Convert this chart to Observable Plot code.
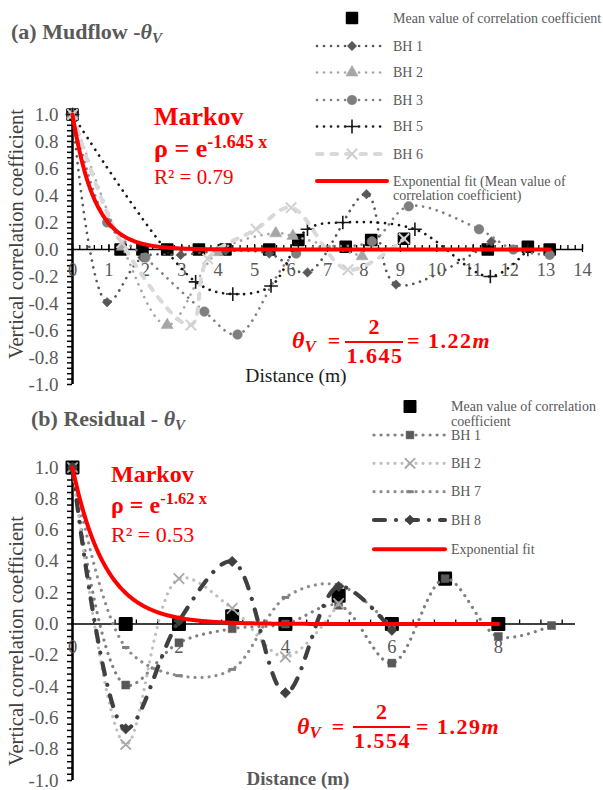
<!DOCTYPE html>
<html><head><meta charset="utf-8">
<script src="https://cdn.jsdelivr.net/npm/d3@7"></script>
<script src="https://cdn.jsdelivr.net/npm/@observablehq/plot@0.6"></script>
<style>
html,body{margin:0;padding:0;background:#fff;overflow:hidden;}
#wrap{position:relative;width:603px;height:790px;font-family:"Liberation Serif","Times New Roman",serif;}
#wrap svg{position:absolute;left:0;}
#wrap svg text{font-family:"Liberation Serif","Times New Roman",serif !important;}
</style></head><body><div id="wrap"></div>
<script>
// ---------------- Panel (a) Mudflow ----------------
const distA_mean = [0, 1.32, 1.92, 2.6, 3.47, 4.2, 5.4, 6.2, 7.5, 8.2, 9.1, 11.4, 12.5, 13.1];
const rhoA_mean  = [1.0, 0, 0, 0, 0, 0, 0, 0.07, 0.02, 0.07, 0.08, 0, 0.02, 0];
const distA_bh1 = [0, 0.95, 1.92, 2.97, 4.2, 5.4, 6.45, 8.07, 8.88, 11.5];
const rhoA_bh1  = [1, -0.39, -0.06, -0.04, -0.01, -0.03, -0.17, 0.41, -0.26, 0.06];
const distA_bh2 = [0, 1.37, 2.6, 3.98, 5.58, 6.05, 7.95];
const rhoA_bh2  = [1, 0.02, -0.56, -0.02, 0.12, 0.10, -0.05];
const distA_bh3 = [0, 0.95, 2.0, 3.62, 4.53, 6.14, 8.22, 9.23, 11.16, 12.1, 13.1];
const rhoA_bh3  = [1, 0.2, -0.06, -0.46, -0.63, -0.03, 0.06, 0.32, 0.15, 0.0, -0.04];
const distA_bh5 = [0, 3.38, 4.4, 5.45, 6.45, 7.42, 9.4, 11.47, 12.5];
const rhoA_bh5  = [1, -0.24, -0.33, -0.27, 0.15, 0.2, 0.15, -0.2, 0.0];
const distA_bh6 = [0, 1.35, 3.25, 3.71, 5.04, 6.0, 7.56, 9.1];
const rhoA_bh6  = [1, 0.05, -0.56, -0.07, 0.15, 0.31, -0.15, 0.08];
const fitA_k = 1.645, fitA_xmax = 13.1;
const xTicksA = [0,1,2,3,4,5,6,7,8,9,10,11,12,13,14];

// ---------------- Panel (b) Residual ----------------
const distB_mean = [0, 1, 2, 3, 4, 5, 6, 7, 8];
const rhoB_mean  = [1, 0, 0, 0.05, 0, 0.18, 0, 0.29, 0];
const distB_bh1 = [0, 1, 2, 3, 4, 5, 6, 7, 8, 9];
const rhoB_bh1  = [1, -0.39, -0.12, -0.03, 0.0, 0.12, -0.25, 0.29, -0.08, -0.01];
const distB_bh2 = [0, 1, 2, 3, 4, 5];
const rhoB_bh2  = [1, -0.77, 0.29, 0.10, -0.21, 0.13];
const distB_bh7 = [0, 1, 2, 3, 4, 5, 6];
const rhoB_bh7  = [1, -0.15, -0.33, -0.29, 0.17, 0.25, -0.02];
const distB_bh8 = [0, 1, 2, 3, 4, 5, 6];
const rhoB_bh8  = [1, -0.67, 0.02, 0.40, -0.44, 0.24, -0.04];
const fitB_k = 1.62, fitB_xmax = 8;
const xTicksB = [0, 2, 4, 6, 8];

const yTicks = [-1.0, -0.8, -0.6, -0.4, -0.2, 0.0, 0.2, 0.4, 0.6, 0.8, 1.0];

// ---------------- helpers ----------------
const FONT = '"Liberation Serif","Times New Roman",serif';
const rows = (xs, ys) => xs.map((x, i) => ({x, y: ys[i]}));
const fitRows = (k, xmax) => d3.range(0, xmax + 1e-9, 0.02).concat([xmax]).map(x => ({x, y: Math.exp(-k * x)}));
const fmtY = d => d.toFixed(1);
const dashSymbol = {draw(ctx, size) { const r = Math.sqrt(size) / 2; ctx.moveTo(-r, 0); ctx.lineTo(r, 0); }};
const DOT = "0.01,7";

function axesMarks(xMax, xMinorStep, xMajor, xLabelDy, yMinorN) {
  const yMinor = d3.range(-yMinorN, yMinorN + 1).map(i => i / yMinorN);
  const xMinor = d3.range(0, Math.floor(xMax / xMinorStep + 1e-6) + 1).map(i => i * xMinorStep);
  return [
    Plot.ruleY([0], {stroke: "#000", strokeWidth: 1.5}),
    Plot.ruleX(xMinor, {x: d => d, y1: () => 0, y2: () => 0, insetTop: -4, stroke: "#000", strokeWidth: 1.3}),
    Plot.ruleX(xMajor, {x: d => d, y1: () => 0, y2: () => 0, insetTop: -5, insetBottom: -3, stroke: "#000", strokeWidth: 1.3}),
    Plot.ruleY(yMinor, {y: d => d, x1: () => 0, x2: () => 0, insetLeft: -5, stroke: "#000", strokeWidth: 1.5}),
    Plot.ruleX([0], {stroke: "#000", strokeWidth: 2.5}),
    Plot.text(yTicks, {x: () => 0, y: d => d, dx: -14, textAnchor: "end", text: fmtY, fill: "#595959", fontSize: 19, fontFamily: FONT}),
    Plot.text(xMajor, {x: d => d, y: () => 0, dy: xLabelDy, text: d => String(d), fill: "#595959", fontSize: 18.5, fontFamily: FONT})
  ];
}

function series(data, o) {
  const m = [];
  m.push(Plot.line(data, {x: "x", y: "y", curve: "catmull-rom", stroke: o.line, strokeWidth: o.w, strokeDasharray: o.dash, strokeLinecap: "round"}));
  const dopt = {x: "x", y: "y", symbol: o.symbol, r: o.r};
  if (o.rotate) dopt.rotate = o.rotate;
  if (o.strokeSym) { dopt.fill = "none"; dopt.stroke = o.color; dopt.strokeWidth = o.sw || 1.5; }
  else { dopt.fill = o.color; dopt.stroke = o.color; dopt.strokeWidth = 0.5; }
  m.push(Plot.dot(data, dopt));
  return m;
}

const wrap = document.getElementById("wrap");

// ---------------- Plot (a) ----------------
const seriesA = [
  {d: rows(distA_bh1, rhoA_bh1), line: "#595959", color: "#595959", w: 2.7, dash: DOT, symbol: "square", rotate: 45, r: 3.8},
  {d: rows(distA_bh2, rhoA_bh2), line: "#a6a6a6", color: "#a6a6a6", w: 2.7, dash: DOT, symbol: "triangle", r: 4.5},
  {d: rows(distA_bh3, rhoA_bh3), line: "#7f7f7f", color: "#7f7f7f", w: 2.7, dash: DOT, symbol: "circle", r: 4.8},
  {d: rows(distA_bh5, rhoA_bh5), line: "#1a1a1a", color: "#1a1a1a", w: 2.7, dash: DOT, symbol: "plus", r: 4.5, strokeSym: true, sw: 1.6},
  {d: rows(distA_bh6, rhoA_bh6), line: "#d9d9d9", color: "#d0d0d0", w: 4, dash: "5.5,9", symbol: "times", r: 4.8, strokeSym: true, sw: 2}
];
const plotA = Plot.plot({
  width: 603, height: 395,
  marginLeft: 72, marginRight: 21, marginTop: 114, marginBottom: 11,
  x: {domain: [0, 14], axis: null},
  y: {domain: [-1, 1], axis: null},
  style: {background: "transparent", overflow: "visible"},
  marks: [
    ...axesMarks(14, 0.2, xTicksA, 21, 25),
    Plot.dot(rows(distA_mean, rhoA_mean), {x: "x", y: "y", symbol: "square", r: 6, fill: "#000", stroke: "#000", strokeWidth: 2, strokeLinejoin: "round"}),
    ...seriesA.flatMap(s => series(s.d, s)),
    Plot.line(fitRows(fitA_k, fitA_xmax), {x: "x", y: "y", stroke: "#ff0000", strokeWidth: 4, curve: "linear"})
  ]
});
plotA.style.top = "0px";
wrap.appendChild(plotA);

// ---------------- Plot (b) ----------------
const seriesB = [
  {d: rows(distB_bh1, rhoB_bh1), line: "#7f7f7f", color: "#595959", w: 3.2, dash: DOT, symbol: "square", r: 4.5},
  {d: rows(distB_bh2, rhoB_bh2), line: "#bfbfbf", color: "#a6a6a6", w: 3.2, dash: DOT, symbol: "times", r: 4.8, strokeSym: true, sw: 1.8},
  {d: rows(distB_bh7, rhoB_bh7), line: "#8c8c8c", color: "#808080", w: 3.2, dash: DOT, symbol: dashSymbol, r: 4.2, strokeSym: true, sw: 3},
  {d: rows(distB_bh8, rhoB_bh8), line: "#404040", color: "#404040", w: 4.2, dash: "11,11,0.01,11", symbol: "square", rotate: 45, r: 4.2}
];
const plotB = Plot.plot({
  width: 603, height: 395,
  marginLeft: 72, marginRight: 28, marginTop: 72, marginBottom: 10,
  x: {domain: [0, 9.45], axis: null},
  y: {domain: [-1, 1], axis: null},
  style: {background: "transparent", overflow: "visible"},
  marks: [
    ...axesMarks(9.45, 0.4, xTicksB, 23, 25),
    Plot.dot(rows(distB_mean, rhoB_mean), {x: "x", y: "y", symbol: "square", r: 6.5, fill: "#000", stroke: "#000", strokeWidth: 2.5, strokeLinejoin: "round"}),
    ...seriesB.flatMap(s => series(s.d, s)),
    Plot.line(fitRows(fitB_k, fitB_xmax), {x: "x", y: "y", stroke: "#ff0000", strokeWidth: 4, curve: "linear"})
  ]
});
plotB.style.top = "395px";
wrap.appendChild(plotB);

// ---------------- overlay: titles, legends, annotations ----------------
const ov = d3.select(wrap).append("svg").attr("width", 603).attr("height", 790).style("top", "0px")
  .attr("font-family", FONT).style("pointer-events", "none");

function title(x, y, prefix) {
  const t = ov.append("text").attr("x", x).attr("y", y).attr("font-size", 22).attr("font-weight", "bold").attr("fill", "#595959");
  t.append("tspan").text(prefix);
  t.append("tspan").attr("font-style", "italic").text("θ");
  t.append("tspan").attr("font-style", "italic").attr("font-size", 15).attr("dy", 4).text("V");
}
title(11, 39, "(a) Mudflow -");
title(31, 426, "(b) Residual - ");

// y axis titles
function yTitle(cx, cy) {
  ov.append("text").attr("transform", `translate(${cx},${cy}) rotate(-90)`).attr("text-anchor", "middle")
    .attr("font-size", 20.5).attr("fill", "#404040").text("Vertical  correlation coefficient");
}
yTitle(23, 234);
yTitle(23, 641);
ov.append("text").attr("x", 296).attr("y", 382).attr("text-anchor", "middle").attr("font-size", 19.5).attr("fill", "#1a1a1a").text("Distance (m)");
ov.append("text").attr("x", 298).attr("y", 785).attr("text-anchor", "middle").attr("font-size", 19).attr("font-weight", "bold").attr("fill", "#595959").text("Distance (m)");

// Markov annotations
function markov(x, y0, big, supSize, sup, r2, gap1, gap2, r2size) {
  ov.append("text").attr("x", x).attr("y", y0).attr("font-size", big).attr("font-weight", "bold").attr("fill", "#ff0000").text("Markov");
  const t = ov.append("text").attr("x", x).attr("y", y0 + gap1).attr("font-size", big).attr("font-weight", "bold").attr("fill", "#ff0000");
  t.append("tspan").text("ρ = e");
  t.append("tspan").attr("font-size", supSize).attr("dy", -big * 0.36).text(sup);
  ov.append("text").attr("x", x).attr("y", y0 + gap1 + gap2).attr("font-size", r2size).attr("fill", "#ff0000").text(r2);
}
markov(154, 125, 26, 18, "-1.645 x", "R² = 0.79", 32, 27, 21);
markov(111, 482, 24, 16.5, "-1.62 x", "R² = 0.53", 31, 29, 22);

// theta formulas
function formula(x0, base, eqX, barX1, barX2, barY, num, den, resX, res) {
  const g = ov.append("g").attr("fill", "#ff0000").attr("font-weight", "bold").attr("font-size", 22);
  const t = g.append("text").attr("x", x0).attr("y", base).attr("font-style", "italic");
  t.append("tspan").attr("font-size", 24).text("θ");
  t.append("tspan").attr("font-size", 17).attr("dy", 4).text("V");
  g.append("text").attr("x", eqX).attr("y", base).attr("text-anchor", "middle").text("=");
  g.append("line").attr("x1", barX1).attr("x2", barX2).attr("y1", barY).attr("y2", barY).attr("stroke", "#ff0000").attr("stroke-width", 2);
  const cx = (barX1 + barX2) / 2;
  g.append("text").attr("x", cx).attr("y", barY - 8).attr("text-anchor", "middle").text(num);
  g.append("text").attr("x", cx + 1).attr("y", barY + 21).attr("text-anchor", "middle").attr("letter-spacing", 1.5).text(den);
  const r = g.append("text").attr("x", resX).attr("y", base).attr("letter-spacing", 1.5);
  r.append("tspan").text("= " + res.num);
  r.append("tspan").attr("font-style", "italic").text(res.unit);
}
formula(292, 348, 334, 345, 403, 342, "2", "1.645", 407, {num: "1.22", unit: "m"});
formula(297, 734, 338, 353, 410, 727, "2", "1.554", 416, {num: "1.29", unit: "m"});

// legends
function legendItem(y, x1, x2, mx, tx, o, texts, tBase) {
  const g = ov.append("g");
  if (o.line) g.append("line").attr("x1", x1).attr("x2", x2).attr("y1", y).attr("y2", y)
    .attr("stroke", o.line).attr("stroke-width", o.w).attr("stroke-dasharray", o.dash || null).attr("stroke-linecap", "round");
  if (o.sym) {
    const p = g.append("path").attr("transform", `translate(${mx},${y}) rotate(${o.rotate || 0})`)
      .attr("d", d3.symbol().type(o.sym).size(o.size)());
    if (o.strokeSym) p.attr("fill", "none").attr("stroke", o.color).attr("stroke-width", o.sw || 1.5);
    else p.attr("fill", o.color).attr("stroke", o.color).attr("stroke-width", o.sw || 0.5).attr("stroke-linejoin", "round");
  }
  texts.forEach((s, i) => g.append("text").attr("x", tx).attr("y", (tBase != null ? tBase : y + 4.5) + i * 14.5)
    .attr("font-size", 14).attr("fill", "#595959").text(s));
}
const d3Dash = {draw(ctx, size) { const r = Math.sqrt(size) / 2; ctx.moveTo(-r, 0); ctx.lineTo(r, 0); }};
// legend (a)
const LA = [317, 387, 352, 393];
legendItem(18, ...LA, {sym: d3.symbolSquare, size: 110, color: "#000", sw: 2}, ["Mean value of correlation coefficient"]);
legendItem(46, ...LA, {line: "#595959", w: 2.7, dash: DOT, sym: d3.symbolSquare, size: 45, rotate: 45, color: "#595959"}, ["BH 1"]);
legendItem(72.5, ...LA, {line: "#a6a6a6", w: 2.7, dash: DOT, sym: d3.symbolTriangle, size: 64, color: "#a6a6a6"}, ["BH 2"]);
legendItem(100, ...LA, {line: "#7f7f7f", w: 2.7, dash: DOT, sym: d3.symbolCircle, size: 72, color: "#7f7f7f"}, ["BH 3"]);
legendItem(126.5, ...LA, {line: "#1a1a1a", w: 2.7, dash: DOT, sym: d3.symbolPlus, size: 64, color: "#1a1a1a", strokeSym: true, sw: 1.6}, ["BH 5"]);
legendItem(154, ...LA, {line: "#d9d9d9", w: 4, dash: "5.5,9", sym: d3.symbolTimes, size: 72, color: "#d0d0d0", strokeSym: true, sw: 2}, ["BH 6"]);
legendItem(181, ...LA, {line: "#ff0000", w: 4}, ["Exponential fit (Mean value of", "correlation coefficient)"], 185.5);
// legend (b)
const LB = [374, 445, 410, 451];
legendItem(406.5, ...LB, {sym: d3.symbolSquare, size: 120, color: "#000", sw: 2}, ["Mean value of correlation", "coefficient"], 411);
legendItem(435, ...LB, {line: "#7f7f7f", w: 3.2, dash: DOT, sym: d3.symbolSquare, size: 60, color: "#595959"}, ["BH 1"]);
legendItem(463.3, ...LB, {line: "#bfbfbf", w: 3.2, dash: DOT, sym: d3.symbolTimes, size: 72, color: "#a6a6a6", strokeSym: true, sw: 1.8}, ["BH 2"]);
legendItem(491.7, ...LB, {line: "#8c8c8c", w: 3.2, dash: DOT, sym: d3Dash, size: 55, color: "#808080", strokeSym: true, sw: 3}, ["BH 7"]);
legendItem(520, ...LB, {line: "#404040", w: 4.2, dash: "11,11,0.01,11", sym: d3.symbolSquare, size: 50, rotate: 45, color: "#404040"}, ["BH 8"]);
legendItem(549.3, ...LB, {line: "#ff0000", w: 4}, ["Exponential fit"]);
</script>
</body></html>
